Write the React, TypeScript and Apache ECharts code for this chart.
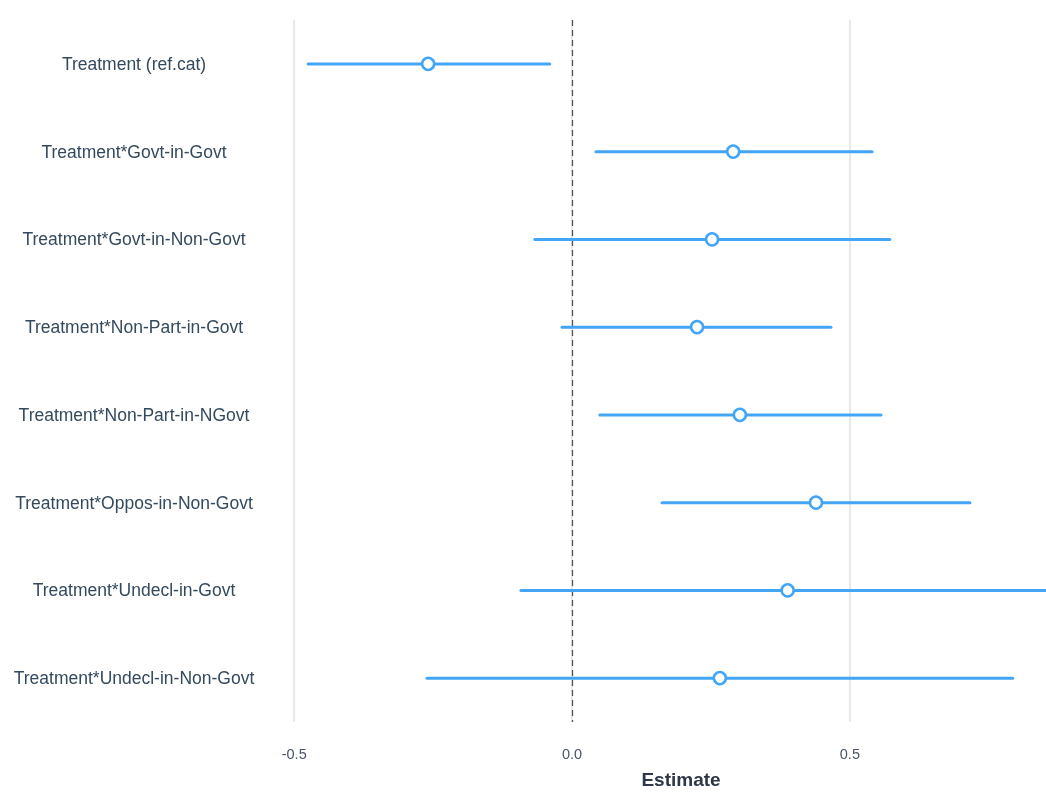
import React, { useEffect, useRef } from "react";
import * as echarts from "echarts";

const terms = [
  "Treatment (ref.cat)",
  "Treatment*Govt-in-Govt",
  "Treatment*Govt-in-Non-Govt",
  "Treatment*Non-Part-in-Govt",
  "Treatment*Non-Part-in-NGovt",
  "Treatment*Oppos-in-Non-Govt",
  "Treatment*Undecl-in-Govt",
  "Treatment*Undecl-in-Non-Govt",
];
const estimates = [-0.259, 0.29, 0.252, 0.225, 0.302, 0.439, 0.388, 0.266];
const lower = [-0.475, 0.043, -0.067, -0.018, 0.05, 0.162, -0.092, -0.261];
const upper = [-0.04, 0.54, 0.572, 0.466, 0.556, 0.716, 0.86, 0.793];
const xTicks = [-0.5, 0, 0.5];

const BLUE = "#42a5f5";
const FONT = "Liberation Sans, Arial, sans-serif";

export default function App() {
  const ref = useRef<HTMLDivElement>(null);
  useEffect(() => {
    if (!ref.current) return;
    const chart = echarts.init(ref.current, null, { renderer: "svg" });
    const intervals = terms.map((t, i) => [lower[i], upper[i], i]);
    chart.setOption({
      animation: false,
      grid: { left: 262, right: 0, top: 20, bottom: 60, containLabel: false },
      xAxis: {
        type: "value",
        min: -0.558,
        max: 0.853,
        axisLine: { show: false },
        axisTick: { show: false, customValues: xTicks },
        splitLine: { show: true, lineStyle: { color: "#e0e0e0", width: 1.5 } },
        axisLabel: {
          color: "#4a5568",
          fontSize: 14.5,
          fontFamily: FONT,
          margin: 24,
          customValues: xTicks,
          formatter: (v: number) => v.toFixed(1),
        },
        name: "Estimate",
        nameLocation: "middle",
        nameGap: 48,
        nameTextStyle: {
          color: "#2d3748",
          fontSize: 19,
          fontWeight: "bold",
          fontFamily: FONT,
          padding: [0, 0, 0, 54],
        },
      },
      yAxis: {
        type: "category",
        data: terms,
        inverse: true,
        axisLine: { show: false },
        axisTick: { show: false },
        splitLine: { show: false },
        axisLabel: {
          color: "#34495e",
          fontSize: 17.5,
          fontFamily: FONT,
          align: "center",
          margin: 128,
        },
      },
      series: [
        {
          type: "custom",
          clip: true,
          data: intervals,
          encode: { x: [0, 1], y: 2 },
          renderItem: (params: any, api: any) => {
            const p1 = api.coord([api.value(0), api.value(2)]);
            const p2 = api.coord([api.value(1), api.value(2)]);
            return {
              type: "line",
              shape: { x1: p1[0], y1: p1[1], x2: p2[0], y2: p2[1] },
              style: { stroke: BLUE, lineWidth: 3, lineCap: "round" },
            };
          },
          z: 2,
        },
        {
          type: "scatter",
          data: estimates.map((v, i) => [v, i]),
          symbol: "circle",
          symbolSize: 12,
          itemStyle: { color: "#ffffff", borderColor: BLUE, borderWidth: 2.5, opacity: 1 },
          z: 3,
          markLine: {
            silent: true,
            symbol: ["none", "none"],
            label: { show: false },
            lineStyle: { color: "#555555", type: [6, 4], width: 1.3 },
            data: [{ xAxis: 0 }],
            z: 1,
          },
        },
      ],
    });
    return () => chart.dispose();
  }, []);
  return (
    <div
      ref={ref}
      style={{ position: "fixed", left: 0, top: 0, width: 1046, height: 794 }}
    />
  );
}
